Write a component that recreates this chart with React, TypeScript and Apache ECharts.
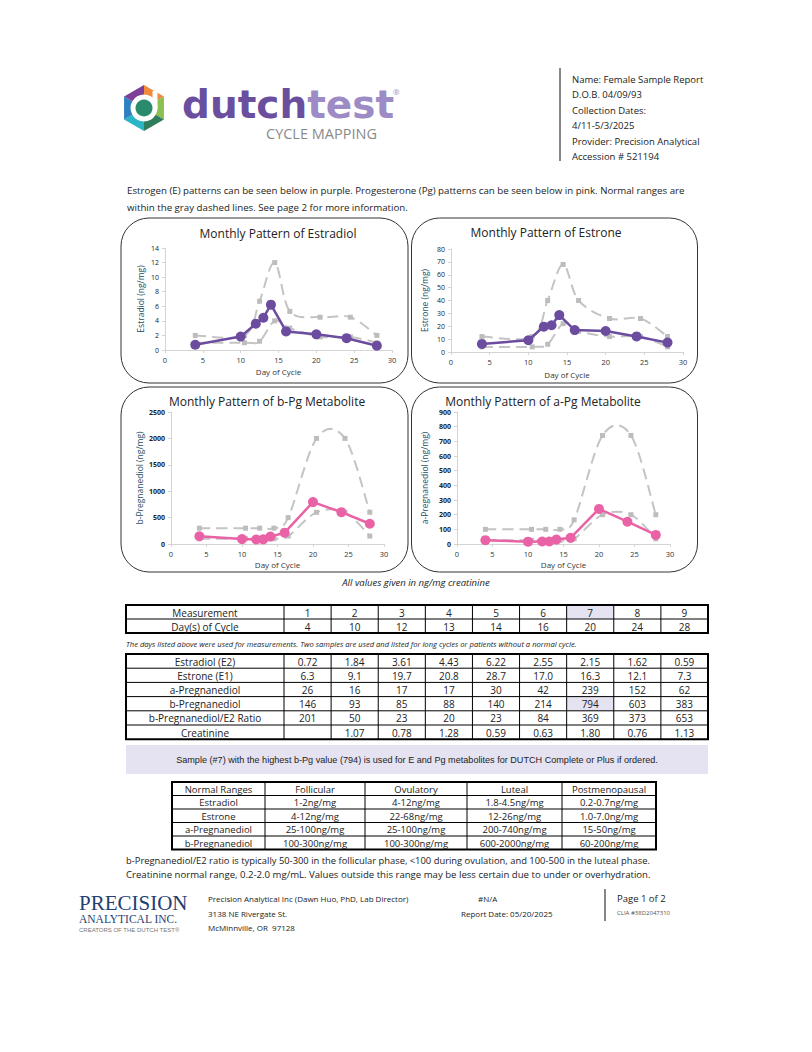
import React, { useEffect, useRef } from "react";
import * as echarts from "echarts";

// ---------- data ----------
const measurements = [1, 2, 3, 4, 5, 6, 7, 8, 9];
const days = [4, 10, 12, 13, 14, 16, 20, 24, 28];
const estradiol = [0.72, 1.84, 3.61, 4.43, 6.22, 2.55, 2.15, 1.62, 0.59];
const estrone = [6.3, 9.1, 19.7, 20.8, 28.7, 17.0, 16.3, 12.1, 7.3];
const aPregnanediol = [26, 16, 17, 17, 30, 42, 239, 152, 62];
const bPregnanediol = [146, 93, 85, 88, 140, 214, 794, 603, 383];
const bPgE2Ratio = [201, 50, 23, 20, 23, 84, 369, 373, 653];
const creatinine = [null, 1.07, 0.78, 1.28, 0.59, 0.63, 1.8, 0.76, 1.13];

const rangeDays = [4, 10.5, 12.5, 14.5, 16.5, 20.5, 24.5, 28];
const e2Upper = [2, 2, 6.7, 12, 5.3, 4.5, 4.5, 2];
const e2Lower = [1, 1, 1.2, 4, 3, 1.8, 1.8, 1];
const e1Upper = [12, 12, 40, 68, 40, 26, 26, 12];
const e1Lower = [4, 4, 6, 22, 16, 12, 12, 4];
const bPgUpper = [300, 300, 300, 300, 500, 2000, 2000, 600];
const bPgLower = [100, 100, 100, 100, 150, 600, 600, 150];
const aPgUpper = [100, 100, 100, 100, 165, 740, 740, 200];
const aPgLower = [25, 25, 25, 25, 35, 200, 200, 35];

const rangeHeader = ["Normal Ranges", "Follicular", "Ovulatory", "Luteal", "Postmenopausal"];
const rangeRows = [
  ["Estradiol", "1-2ng/mg", "4-12ng/mg", "1.8-4.5ng/mg", "0.2-0.7ng/mg"],
  ["Estrone", "4-12ng/mg", "22-68ng/mg", "12-26ng/mg", "1.0-7.0ng/mg"],
  ["a-Pregnanediol", "25-100ng/mg", "25-100ng/mg", "200-740ng/mg", "15-50ng/mg"],
  ["b-Pregnanediol", "100-300ng/mg", "100-300ng/mg", "600-2000ng/mg", "60-200ng/mg"],
];

const headerInfo = [
  "Name: Female Sample Report",
  "D.O.B. 04/09/93",
  "Collection Dates:",
  "4/11-5/3/2025",
  "Provider: Precision Analytical",
  "Accession # 521194",
];

// ---------- styling ----------
const FONT = "Open Sans";
const PURPLE = "#6c4c9e";
const PINK = "#ea62a6";
const GRAY = "#c4c4c4";
const YNAME = "#234f66";

function txt(text: string, x: number, y: number, o: any = {}) {
  const align = o.align || "left";
  const va = o.va || "middle";
  const size = o.size || 10;
  return {
    type: "text",
    x,
    y,
    silent: true,
    z: o.z || 10,
    style: {
      text,
      fill: o.fill || "#222",
      fontSize: size,
      fontFamily: o.family || FONT,
      fontWeight: o.weight || "normal",
      fontStyle: o.style || "normal",
      lineHeight: o.lh || Math.round(size * 1.15),
      align,
      textAlign: align,
      verticalAlign: va,
      textVerticalAlign: va,
    },
  };
}

function line(x1: number, y1: number, x2: number, y2: number, w = 1, color = "#000") {
  return { type: "line", silent: true, z: 5, shape: { x1, y1, x2, y2 }, style: { stroke: color, lineWidth: w } };
}

function rect(x: number, y: number, w: number, h: number, o: any = {}) {
  return {
    type: "rect",
    silent: true,
    z: o.z || 1,
    shape: { x, y, width: w, height: h, r: o.r || 0 },
    style: { fill: o.fill || "none", stroke: o.stroke || "none", lineWidth: o.lw || 1 },
  };
}

function table(edges: number[], y0: number, rowH: number, rows: string[][], highlights: number[][], size: number) {
  const els: any[] = [];
  const x0 = edges[0];
  const x1 = edges[edges.length - 1];
  const h = rowH * rows.length;
  highlights.forEach(([r, c]) => {
    els.push(rect(edges[c], y0 + r * rowH, edges[c + 1] - edges[c], rowH, { fill: "#e5e2f1" }));
  });
  for (let r = 1; r < rows.length; r++) els.push(line(x0, y0 + r * rowH, x1, y0 + r * rowH, 1));
  for (let c = 1; c < edges.length - 1; c++) els.push(line(edges[c], y0, edges[c], y0 + h, 1));
  els.push(rect(x0, y0, x1 - x0, h, { stroke: "#000", lw: 2, z: 6 }));
  rows.forEach((row, r) => {
    row.forEach((cell, c) => {
      if (cell === "") return;
      els.push(txt(cell, (edges[c] + edges[c + 1]) / 2, y0 + r * rowH + rowH / 2 + 0.5, { align: "center", size, lh: rowH - 2 }));
    });
  });
  return els;
}

function hexLogo(cx: number, cy: number, R: number) {
  const colors = ["#f08a3c", "#8cc152", "#2f7d5c", "#2bb5c6", "#2f7fc1", "#7d3f98"];
  const els: any[] = [];
  for (let i = 0; i < 6; i++) {
    const a1 = ((-90 + i * 60) * Math.PI) / 180;
    const a2 = ((-30 + i * 60) * Math.PI) / 180;
    els.push({
      type: "polygon",
      silent: true,
      z: 2,
      shape: {
        points: [
          [cx, cy],
          [cx + R * Math.cos(a1), cy + R * Math.sin(a1)],
          [cx + R * Math.cos(a2), cy + R * Math.sin(a2)],
        ],
      },
      style: { fill: colors[i] },
    });
  }
  els.push({ type: "circle", silent: true, z: 3, shape: { cx, cy, r: 13.5 }, style: { fill: "#fff" } });
  els.push(rect(cx + 8.5, cy - 17, 5, 17, { fill: "#fff", z: 3 }));
  els.push({ type: "circle", silent: true, z: 4, shape: { cx, cy, r: 8.5 }, style: { fill: "#2a8b6c" } });
  return els;
}

type ChartSpec = {
  grid: { left: number; top: number; width: number; height: number };
  values: number[];
  upper: number[];
  lower: number[];
  color: string;
  yMax: number;
  yInterval: number;
  yName: string;
  yNameGap: number;
  xNameGap: number;
  boldY: boolean;
};

const charts: ChartSpec[] = [
  { grid: { left: 165, top: 248, width: 227, height: 102 }, values: estradiol, upper: e2Upper, lower: e2Lower, color: PURPLE, yMax: 14, yInterval: 2, yName: "Estradiol (ng/mg)", yNameGap: 20, xNameGap: 17, boldY: false },
  { grid: { left: 451, top: 249, width: 232, height: 103 }, values: estrone, upper: e1Upper, lower: e1Lower, color: PURPLE, yMax: 80, yInterval: 10, yName: "Estrone (ng/mg)", yNameGap: 22, xNameGap: 18, boldY: false },
  { grid: { left: 171, top: 412, width: 213, height: 132 }, values: bPregnanediol, upper: bPgUpper, lower: bPgLower, color: PINK, yMax: 2500, yInterval: 500, yName: "b-Pregnanediol (ng/mg)", yNameGap: 27, xNameGap: 16, boldY: true },
  { grid: { left: 457, top: 412, width: 213, height: 132 }, values: aPregnanediol, upper: aPgUpper, lower: aPgLower, color: PINK, yMax: 900, yInterval: 100, yName: "a-Pregnanediol (ng/mg)", yNameGap: 28, xNameGap: 16, boldY: true },
];

const chartTitles = [
  { text: "Monthly Pattern of Estradiol", x: 278, y: 233 },
  { text: "Monthly Pattern of Estrone", x: 546, y: 232 },
  { text: "Monthly Pattern of b-Pg Metabolite", x: 267, y: 401 },
  { text: "Monthly Pattern of a-Pg Metabolite", x: 543, y: 401 },
];

// smooth dashed curve through the data points (Excel-like Catmull-Rom smoothing), drawn via the axes' scales
function smoothRenderer(data: number[][]) {
  return (params: any, api: any) => {
    if (params.dataIndex !== 0) return null;
    const p = data.map((d) => api.coord(d));
    const n = p.length;
    let d = `M${p[0][0]},${p[0][1]}`;
    for (let i = 0; i < n - 1; i++) {
      const p0 = p[Math.max(i - 1, 0)];
      const p1 = p[i];
      const p2 = p[i + 1];
      const p3 = p[Math.min(i + 2, n - 1)];
      const c1x = p1[0] + (p2[0] - p0[0]) / 6;
      const c1y = p1[1] + (p2[1] - p0[1]) / 6;
      const c2x = p2[0] - (p3[0] - p1[0]) / 6;
      const c2y = p2[1] - (p3[1] - p1[1]) / 6;
      d += ` C${c1x},${c1y} ${c2x},${c2y} ${p2[0]},${p2[1]}`;
    }
    return {
      type: "path",
      shape: { pathData: d },
      style: { stroke: GRAY, lineWidth: 2, fill: "none", lineDash: [11, 6] },
    };
  };
}

function buildOption() {
  const grids: any[] = [];
  const xAxes: any[] = [];
  const yAxes: any[] = [];
  const series: any[] = [];
  const axisLineStyle = { color: "#d4d4d4", width: 1 };

  charts.forEach((c, i) => {
    grids.push({ ...c.grid, containLabel: false, outerBoundsMode: "none" });
    xAxes.push({
      gridIndex: i,
      type: "value",
      min: 0,
      max: 30,
      interval: 5,
      axisLine: { show: true, onZero: false, lineStyle: axisLineStyle },
      axisTick: { show: true, length: 3, lineStyle: axisLineStyle },
      axisLabel: { fontSize: 7.5, color: "#333", margin: 6, fontFamily: FONT },
      splitLine: { show: false },
      name: "Day of Cycle",
      nameLocation: "middle",
      nameGap: c.xNameGap,
      nameTextStyle: { fontSize: 8, color: "#333", fontFamily: FONT },
    });
    yAxes.push({
      gridIndex: i,
      type: "value",
      min: 0,
      max: c.yMax,
      interval: c.yInterval,
      axisLine: { show: true, lineStyle: axisLineStyle },
      axisTick: { show: true, length: 3, lineStyle: axisLineStyle },
      axisLabel: {
        fontSize: 7,
        color: "#222",
        margin: 6,
        fontWeight: c.boldY ? "bold" : "normal",
        fontFamily: FONT,
        formatter: (v: number) => String(v),
      },
      splitLine: { show: false },
      name: c.yName,
      nameLocation: "middle",
      nameGap: c.yNameGap,
      nameTextStyle: { fontSize: 8.5, color: YNAME, fontFamily: FONT },
    });
    [c.upper, c.lower].forEach((r) => {
      const data = rangeDays.map((d, k) => [d, r[k]]);
      series.push({
        type: "custom",
        xAxisIndex: i,
        yAxisIndex: i,
        data,
        encode: { x: 0, y: 1 },
        renderItem: smoothRenderer(data),
        clip: false,
        z: 1,
        silent: true,
      });
      series.push({
        type: "line",
        xAxisIndex: i,
        yAxisIndex: i,
        data,
        symbol: "rect",
        symbolSize: 5,
        lineStyle: { width: 0, opacity: 0 },
        itemStyle: { color: "#bdbdbd" },
        z: 2,
        silent: true,
      });
    });
    series.push({
      type: "line",
      xAxisIndex: i,
      yAxisIndex: i,
      data: days.map((d, k) => [d, c.values[k]]),
      symbol: "circle",
      symbolSize: 10,
      lineStyle: { color: c.color, width: 2.5 },
      itemStyle: { color: c.color },
      z: 3,
      silent: true,
    });
  });

  const g: any[] = [];
  // header
  g.push(...hexLogo(144, 108, 23));
  g.push({
    type: "text",
    x: 182,
    y: 104,
    silent: true,
    z: 10,
    style: {
      text: "{a|dutch}{b|test}",
      verticalAlign: "middle",
      textVerticalAlign: "middle",
      lineHeight: 32,
      rich: {
        a: { fill: "#6b4f9f", fontSize: 39, fontWeight: "bold", fontFamily: "DejaVu Sans", lineHeight: 32 },
        b: { fill: "#9d8bc5", fontSize: 39, fontWeight: "bold", fontFamily: "DejaVu Sans", lineHeight: 32 },
      },
    },
  });
  g.push(txt("®", 393, 91, { size: 8, fill: "#9d8bc5" }));
  g.push(txt("CYCLE MAPPING", 266, 133, { size: 14.5, fill: "#8a8a8a", lh: 13 }));
  g.push(line(560, 68, 560, 161, 1, "#111"));
  headerInfo.forEach((t, k) => g.push(txt(t, 572, 79 + k * 15.5, { size: 9.5 })));

  g.push(txt("Estrogen (E) patterns can be seen below in purple. Progesterone (Pg) patterns can be seen below in pink. Normal ranges are", 127, 190, { size: 9.7 }));
  g.push(txt("within the gray dashed lines. See page 2 for more information.", 127, 207, { size: 9.7 }));

  // chart boxes
  g.push(rect(121, 218, 287, 165, { stroke: "#333", r: 28, lw: 1 }));
  g.push(rect(411.5, 218, 286, 165, { stroke: "#333", r: 28, lw: 1 }));
  g.push(rect(121, 387, 287, 185, { stroke: "#333", r: 28, lw: 1 }));
  g.push(rect(411.5, 387, 286, 185, { stroke: "#333", r: 28, lw: 1 }));
  chartTitles.forEach((t) => g.push(txt(t.text, t.x, t.y, { align: "center", size: 12, fill: "#222" })));

  g.push(txt("All values given in ng/mg creatinine", 416, 582, { align: "center", size: 9.5, style: "italic" }));

  // measurement table
  const w = (708 - 284) / 9;
  const cols = [126, 284, ...measurements.map((_, k) => 284 + (k + 1) * w)];
  g.push(
    ...table(
      cols,
      605,
      14,
      [
        ["Measurement", ...measurements.map(String)],
        ["Day(s) of Cycle", ...days.map(String)],
      ],
      [[0, 7]],
      10
    )
  );
  g.push(txt("The days listed above were used for measurements. Two samples are used and listed for long cycles or patients without a normal cycle.", 126, 644, { size: 7.6, style: "italic" }));

  g.push(
    ...table(
      cols,
      654,
      14.2,
      [
        ["Estradiol (E2)", ...estradiol.map((v) => v.toFixed(2))],
        ["Estrone (E1)", ...estrone.map((v) => v.toFixed(1))],
        ["a-Pregnanediol", ...aPregnanediol.map(String)],
        ["b-Pregnanediol", ...bPregnanediol.map(String)],
        ["b-Pregnanediol/E2 Ratio", ...bPgE2Ratio.map(String)],
        ["Creatinine", ...creatinine.map((v) => (v == null ? "" : v.toFixed(2)))],
      ],
      [[3, 7]],
      10
    )
  );

  // highlight box
  g.push(rect(126, 745, 582, 29, { fill: "#e5e2f1" }));
  g.push(txt("Sample (#7) with the highest b-Pg value (794) is used for E and Pg metabolites for DUTCH Complete or Plus if ordered.", 417, 759.5, { align: "center", size: 9.1, family: "Liberation Sans" }));

  // ranges table
  g.push(...table([172, 265, 365, 467, 562, 656], 782, 13.5, [rangeHeader, ...rangeRows], [], 9.5));

  g.push(txt("b-Pregnanediol/E2 ratio is typically 50-300 in the follicular phase, <100 during ovulation, and 100-500 in the luteal phase.", 126, 860, { size: 9.4 }));
  g.push(txt("Creatinine normal range, 0.2-2.0 mg/mL. Values outside this range may be less certain due to under or overhydration.", 126, 874, { size: 9.6 }));

  // footer
  g.push(txt("PRECISION", 79, 902.5, { size: 21, family: "Liberation Serif", fill: "#1f3f73", lh: 16 }));
  g.push(txt("ANALYTICAL INC.", 79, 919, { size: 11.5, family: "Liberation Serif", fill: "#1f3f73", lh: 10 }));
  g.push(txt("CREATORS OF THE DUTCH TEST®", 79, 929.5, { size: 6, family: "Liberation Sans", fill: "#777", lh: 6 }));
  g.push(txt("Precision Analytical Inc (Dawn Huo, PhD, Lab Director)", 208, 898, { size: 8 }));
  g.push(txt("3138 NE Rivergate St.", 208, 913, { size: 8 }));
  g.push(txt("McMinnville, OR  97128", 208, 927, { size: 8 }));
  g.push(txt("#N/A", 478, 898, { size: 8 }));
  g.push(txt("Report Date: 05/20/2025", 461, 913, { size: 8 }));
  g.push(line(605, 889, 605, 921, 1, "#111"));
  g.push(txt("Page 1 of 2", 617, 898, { size: 9.5 }));
  g.push(txt("CLIA #38D2047310", 617, 913, { size: 6, fill: "#555" }));

  return {
    animation: false,
    backgroundColor: "#fff",
    textStyle: { fontFamily: FONT },
    grid: grids,
    xAxis: xAxes,
    yAxis: yAxes,
    series,
    graphic: { elements: g },
  };
}

export default function App() {
  const ref = useRef<HTMLDivElement>(null);
  useEffect(() => {
    const chart = echarts.init(ref.current!, null, { renderer: "svg" });
    chart.setOption(buildOption());
    return () => chart.dispose();
  }, []);
  return <div ref={ref} style={{ position: "absolute", left: 0, top: 0, width: 812, height: 1052 }} />;
}
